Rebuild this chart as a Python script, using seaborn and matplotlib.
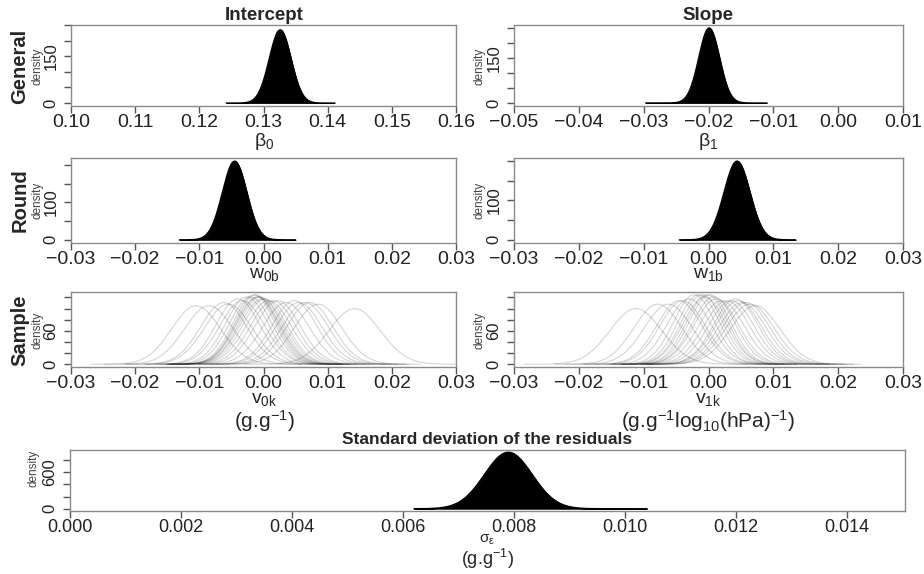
import numpy as np
import pandas as pd
import seaborn as sns
import matplotlib.pyplot as plt

sns.set_style("white")
plt.rcParams['font.family'] = ['Liberation Sans', 'DejaVu Sans']
plt.rcParams['mathtext.fontset'] = 'custom'
plt.rcParams['mathtext.rm'] = 'Liberation Sans'
plt.rcParams['mathtext.it'] = 'Liberation Sans'
plt.rcParams['mathtext.bf'] = 'Liberation Sans:bold'

# posterior summaries (centre, spread, range of drawn line)
post_names = ['beta0', 'beta1', 'w0b', 'w1b', 'sigma']
post_mean = [0.1326, -0.0199, -0.0045, 0.0044, 0.0079]
post_sd = [0.0017, 0.0016, 0.0019, 0.0020, 0.00043]
post_lo = [0.1242, -0.0297, -0.0131, -0.0045, 0.0062]
post_hi = [0.1411, -0.0110, 0.0050, 0.01345, 0.0104]

# sample-level effects, one curve per sample
v0_mean = [-0.0105, -0.0085, -0.0062, -0.0055, -0.0040, -0.0033, -0.0026, -0.0020,
           -0.0015, -0.0012, -0.0010, -0.0008, -0.0005, -0.0002, 0.0002, 0.0008,
           0.0015, 0.0022, 0.0035, 0.0048, 0.0055, 0.0065, 0.0072, 0.0085, 0.0142]
v0_sd = [0.0038, 0.0038, 0.0036, 0.0037, 0.0034, 0.0035, 0.0033, 0.0033,
         0.0032, 0.0032, 0.0033, 0.0033, 0.0033, 0.0034, 0.0034, 0.0035,
         0.0035, 0.0035, 0.0036, 0.0035, 0.0036, 0.0036, 0.0036, 0.0037, 0.0040]
v1_mean = [-0.0112, -0.0078, -0.0062, -0.0045, -0.0040, -0.0030, -0.0022, -0.0015,
           -0.0010, -0.0006, -0.0002, 0.0002, 0.0008, 0.0012, 0.0020, 0.0028,
           0.0035, 0.0042, 0.0046, 0.0052, 0.0058, 0.0064, 0.0072]
v1_sd = [0.0040, 0.0037, 0.0037, 0.0035, 0.0035, 0.0034, 0.0032, 0.0032,
         0.0032, 0.0033, 0.0032, 0.0032, 0.0033, 0.0034, 0.0035, 0.0035,
         0.0035, 0.0034, 0.0035, 0.0036, 0.0036, 0.0037, 0.0038]

W, H = 924, 574


def rect(l, t, r, b):
    return [l / W, 1 - b / H, (r - l) / W, (b - t) / H]


def dens(m, s, x):
    return np.exp(-0.5 * ((x - m) / s) ** 2) / (s * np.sqrt(2 * np.pi))


def style(ax, xlim, xticks, xfmt, yticks, ylab, xfs=14):
    ax.set_xlim(xlim)
    ax.set_xticks(xticks)
    ax.set_xticklabels([(xfmt % t).replace('-', '\u2212') for t in xticks], fontsize=xfs)
    ax.set_yticks(yticks)
    ax.set_yticklabels([str(t) if t in ylab else '' for t in yticks],
                       rotation=90, va='center', fontsize=12)
    ax.tick_params(direction='out', length=5, width=1, color='#555555',
                   labelcolor='#222222', bottom=True, left=True)
    ax.tick_params(axis='x', pad=0.5)
    ax.tick_params(axis='y', pad=4)
    for sp in ax.spines.values():
        sp.set_color('#8a8a8a')
        sp.set_linewidth(1)
    ax.set_xlabel('')
    ax.set_ylabel('')


def filled(ax, i):
    x = np.linspace(post_lo[i], post_hi[i], 500)
    y = dens(post_mean[i], post_sd[i], x)
    ax.fill_between(x, y, facecolor='black', edgecolor='black', lw=0.6)
    sns.lineplot(x=x, y=y, color='black', lw=1, ax=ax)
    top = y.max()
    ax.set_ylim(-0.04 * top, 1.04 * top)


def samples(ax, means, sds):
    rows = []
    for k, (m, s) in enumerate(zip(means, sds)):
        x = np.linspace(m - 4.3 * s, m + 4.3 * s, 300)
        rows.append(pd.DataFrame({'x': x, 'd': dens(m, s, x), 'k': k}))
    df = pd.concat(rows)
    sns.lineplot(data=df, x='x', y='d', units='k', estimator=None,
                 color='black', alpha=0.17, lw=0.8, ax=ax)
    top = df['d'].max()
    ax.set_ylim(-0.04 * top, 1.04 * top)


fig = plt.figure(figsize=(9.24, 5.74), dpi=100)

a1 = fig.add_axes(rect(71, 25, 456, 106))
filled(a1, 0)
style(a1, (0.10, 0.16), np.round(np.arange(0.10, 0.1601, 0.01), 2), '%.2f',
      [0, 50, 100, 150, 200, 250], [0, 150])
a2 = fig.add_axes(rect(514, 25, 903, 106))
filled(a2, 1)
style(a2, (-0.05, 0.01), np.round(np.arange(-0.05, 0.0101, 0.01), 2), '%.2f',
      [0, 50, 100, 150, 200, 250], [0, 150])

a3 = fig.add_axes(rect(71, 158, 456, 243))
filled(a3, 2)
style(a3, (-0.03, 0.03), np.round(np.arange(-0.03, 0.0301, 0.01), 2), '%.2f',
      [0, 50, 100, 150, 200], [0, 100])
a4 = fig.add_axes(rect(514, 158, 903, 243))
filled(a4, 3)
style(a4, (-0.03, 0.03), np.round(np.arange(-0.03, 0.0301, 0.01), 2), '%.2f',
      [0, 50, 100, 150, 200], [0, 100])

a5 = fig.add_axes(rect(71, 292, 456, 367))
samples(a5, v0_mean, v0_sd)
style(a5, (-0.03, 0.03), np.round(np.arange(-0.03, 0.0301, 0.01), 2), '%.2f',
      [0, 20, 40, 60, 80, 100, 120], [0, 60])
a6 = fig.add_axes(rect(514, 292, 903, 367))
samples(a6, v1_mean, v1_sd)
style(a6, (-0.03, 0.03), np.round(np.arange(-0.03, 0.0301, 0.01), 2), '%.2f',
      [0, 20, 40, 60, 80, 100, 120], [0, 60])

a7 = fig.add_axes(rect(70, 450, 905, 511))
filled(a7, 4)
style(a7, (0, 0.01505), np.round(np.arange(0, 0.01401, 0.002), 3), '%.3f',
      [0, 200, 400, 600, 800], [0, 600], xfs=13)


def t(x, y, s, **kw):
    fig.text(x / W, 1 - y / H, s, ha='center', va='center', **kw)


t(264, 15, 'Intercept', fontsize=13.5, fontweight='bold')
t(708, 15, 'Slope', fontsize=13.5, fontweight='bold')
t(487, 439, 'Standard deviation of the residuals', fontsize=12.5, fontweight='bold')

t(20, 66, 'General', fontsize=14.5, fontweight='bold', rotation=90)
t(20, 200, 'Round', fontsize=14.5, fontweight='bold', rotation=90)
t(20, 330, 'Sample', fontsize=14.5, fontweight='bold', rotation=90)

for x0, y0 in [(37, 66), (480, 66), (37, 200), (480, 200), (37, 330), (480, 330), (33, 468)]:
    t(x0, y0, 'density', fontsize=8.5, rotation=90, color='#444444')

t(264, 141, r'$\beta_0$', fontsize=14)
t(708, 141, r'$\beta_1$', fontsize=14)
t(264, 275, r'$\mathrm{w}_{0\mathrm{b}}$', fontsize=14)
t(708, 275, r'$\mathrm{w}_{1\mathrm{b}}$', fontsize=14)
t(264, 400, r'$\mathrm{v}_{0\mathrm{k}}$', fontsize=14)
t(708, 400, r'$\mathrm{v}_{1\mathrm{k}}$', fontsize=14)
t(264, 421, r'(g.g$^{-1}$)', fontsize=15)
t(708, 421, r'(g.g$^{-1}$log$_{10}$(hPa)$^{-1}$)', fontsize=15)
t(487, 540, r'$\sigma_{\epsilon}$', fontsize=11)
t(487, 559, r'(g.g$^{-1}$)', fontsize=13)

fig.savefig('out.png', dpi=100)
